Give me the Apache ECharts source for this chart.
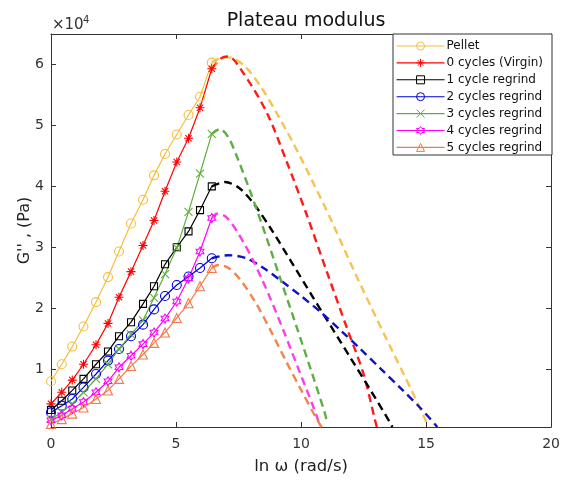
<!DOCTYPE html>
<html>
<head>
<meta charset="utf-8">
<script src="https://cdn.jsdelivr.net/npm/echarts@6/dist/echarts.min.js"></script>
<style>
html,body{margin:0;padding:0;background:#fff;}
#chart{width:563px;height:480px;}
</style>
</head>
<body>
<div id="chart"></div>
<script>
// ---- data (G'' in units of 1e4 Pa) ----
var lnW = [0, 0.43, 0.85, 1.3, 1.8, 2.28, 2.72, 3.2, 3.68, 4.12, 4.56, 5.03, 5.5, 5.96, 6.43];
var seriesNames = ['Pellet', '0 cycles (Virgin)', '1 cycle regrind', '2 cycles regrind', '3 cycles regrind', '4 cycles regrind', '5 cycles regrind'];

var pellet  = [0.80, 1.08, 1.37, 1.70, 2.10, 2.51, 2.93, 3.39, 3.78, 4.18, 4.53, 4.85, 5.17, 5.47, 6.03];
var cycle0  = [0.43, 0.62, 0.82, 1.08, 1.40, 1.75, 2.18, 2.60, 3.03, 3.44, 3.92, 4.40, 4.79, 5.29, 5.93];
var cycle1  = [0.33, 0.48, 0.65, 0.84, 1.08, 1.29, 1.54, 1.77, 2.07, 2.36, 2.72, 3.00, 3.26, 3.61, 4.00];
var cycle2  = [0.29, 0.40, 0.51, 0.70, 0.92, 1.14, 1.33, 1.54, 1.73, 1.98, 2.20, 2.38, 2.52, 2.66, 2.82];
var cycle3  = [0.18, 0.29, 0.43, 0.62, 0.84, 1.08, 1.33, 1.57, 1.80, 2.17, 2.56, 2.99, 3.58, 4.21, 4.86];
var cycle4  = [0.16, 0.24, 0.35, 0.46, 0.62, 0.80, 1.03, 1.22, 1.41, 1.60, 1.83, 2.11, 2.49, 2.93, 3.48];
var cycle5  = [0.10, 0.18, 0.27, 0.37, 0.51, 0.65, 0.84, 1.05, 1.24, 1.43, 1.60, 1.84, 2.08, 2.36, 2.66];

// fitted (dashed) curves: [ln w, G''/1e4]
var fitPellet = [[6.43,6.03],[6.9,6.12],[7.3,6.1],[7.8,5.95],[8.4,5.63],[9.0,5.22],[9.7,4.70],[10.4,4.13],[11.2,3.45],[12.0,2.72],[12.8,2.02],[13.6,1.34],[14.4,0.67],[15.05,0.10],[15.1,0.05]];
var fitCycle0 = [[6.43,5.93],[6.8,6.1],[7.09,6.13],[7.69,5.86],[8.63,5.21],[9.43,4.40],[10.23,3.53],[11.03,2.60],[11.83,1.68],[12.5,0.92],[12.96,0.16],[13.03,0.05]];
var fitCycle1 = [[6.43,4.00],[6.96,4.07],[7.5,3.98],[8.1,3.72],[8.8,3.30],[9.6,2.77],[10.4,2.23],[11.2,1.70],[12.0,1.17],[12.8,0.64],[13.55,0.13],[13.65,0.05]];
var fitCycle2 = [[6.43,2.82],[7.1,2.87],[7.8,2.82],[8.5,2.66],[9.2,2.45],[10.0,2.20],[10.8,1.93],[11.6,1.63],[12.4,1.32],[13.2,1.00],[14.0,0.68],[14.8,0.35],[15.45,0.05]];
var fitCycle3 = [[6.43,4.86],[6.76,4.94],[7.1,4.80],[7.5,4.42],[8.0,3.88],[8.6,3.18],[9.2,2.45],[9.8,1.72],[10.4,0.98],[10.95,0.28],[11.05,0.10]];
var fitCycle4 = [[6.43,3.48],[6.63,3.55],[7.0,3.50],[7.5,3.22],[8.1,2.77],[8.7,2.23],[9.3,1.63],[9.9,1.00],[10.5,0.37],[10.75,0.08]];
var fitCycle5 = [[6.43,2.66],[6.69,2.71],[7.1,2.66],[7.6,2.45],[8.2,2.08],[8.8,1.62],[9.4,1.13],[10.0,0.66],[10.6,0.20],[10.85,0.03]];

var xTicks = [0, 5, 10, 15, 20];
var yTicks = [1, 2, 3, 4, 5, 6];

// ---- styling ----
var colors = ['#F5BE3C', '#FF0000', '#000000', '#0000E0', '#5FAF3A', '#FF00FF', '#F4784A'];
var fitColors = ['#F7C350', '#FF1A1A', '#000000', '#1010C8', '#5EAD45', '#FF3DE6', '#F5834E'];
var FONT = 'DejaVu Sans';
var AX = '#333333';

var symAsterisk = 'path://M0,-5L0,5M-5,0L5,0M-3.5,-3.5L3.5,3.5M-3.5,3.5L3.5,-3.5';
var symX = 'path://M-4,-4L4,4M-4,4L4,-4';
var symHex = 'path://M0,-5L1.443,-2.5L4.33,-2.5L2.887,0L4.33,2.5L1.443,2.5L0,5L-1.443,2.5L-4.33,2.5L-2.887,0L-4.33,-2.5L-1.443,-2.5Z';
var symbols = ['circle', symAsterisk, 'rect', 'circle', symX, symHex, 'triangle'];
var symSizes = [9, 9, 7, 9, 8, 9, 9];

var measured = [pellet, cycle0, cycle1, cycle2, cycle3, cycle4, cycle5];
var fits = [fitPellet, fitCycle0, fitCycle1, fitCycle2, fitCycle3, fitCycle4, fitCycle5];

var series = [];
fits.forEach(function (f, i) {
  series.push({
    name: seriesNames[i] + ' fit',
    type: 'line',
    data: f,
    smooth: 0.3,
    showSymbol: false,
    symbol: 'none',
    lineStyle: { color: fitColors[i], width: 2.4, type: [8, 5] },
    z: 2,
    silent: true
  });
});
measured.forEach(function (vals, i) {
  series.push({
    name: seriesNames[i],
    type: 'line',
    data: lnW.map(function (x, k) { return [x, vals[k]]; }),
    symbol: symbols[i],
    symbolSize: symSizes[i],
    symbolKeepAspect: true,
    showAllSymbol: true,
    lineStyle: { color: colors[i], width: 1.2 },
    itemStyle: { color: 'rgba(255,255,255,0)', borderColor: colors[i], borderWidth: 1.1 },
    z: 3
  });
});

var chart = echarts.init(document.getElementById('chart'), null, { renderer: 'canvas' });
chart.setOption({
  animation: false,
  backgroundColor: '#ffffff',
  textStyle: { fontFamily: FONT },
  title: {
    text: 'Plateau modulus',
    left: 301, top: 7, textAlign: 'center',
    textStyle: { fontFamily: FONT, fontSize: 19, fontWeight: 'normal', color: '#111' }
  },
  grid: { left: 51, right: 11, top: 34, bottom: 50, containLabel: false },
  legend: {
    data: seriesNames,
    orient: 'vertical',
    left: 396, top: 40,
    padding: 0,
    itemWidth: 48, itemHeight: 10, itemGap: 4.9,
    lineStyle: { width: 1.1 },
    itemStyle: { borderWidth: 1 },
    textStyle: { fontFamily: FONT, fontSize: 12, color: '#111', padding: [0, 0, 0, -3] },
    selectedMode: false
  },
  graphic: [
    { type: 'rect', z: 1, shape: { x: 393, y: 34, width: 159, height: 121 }, style: { fill: '#fff', stroke: AX, lineWidth: 1 } },
    { type: 'text', left: 52, top: 18, style: { text: '\u00d710', fontFamily: FONT, fontSize: 15, fill: '#333' } },
    { type: 'text', left: 83, top: 15, style: { text: '4', fontFamily: FONT, fontSize: 10, fill: '#333' } }
  ],
  xAxis: [
    {
      type: 'value', position: 'bottom', min: 0, max: 20, interval: 5,
      name: 'ln \u03c9 (rad/s)', nameLocation: 'middle', nameGap: 31, nameMoveOverlap: false,
      nameTextStyle: { fontFamily: FONT, fontSize: 16.5, color: '#222' },
      axisLine: { show: true, onZero: false, lineStyle: { color: AX, width: 1 } },
      axisTick: { show: true, inside: true, length: 5, lineStyle: { color: AX } },
      axisLabel: { show: true, margin: 10, fontFamily: FONT, fontSize: 14, color: '#333',
        customValues: xTicks },
      splitLine: { show: false }
    },
    {
      type: 'value', position: 'top', min: 0, max: 20, interval: 5,
      axisLine: { show: true, onZero: false, lineStyle: { color: AX, width: 1 } },
      axisTick: { show: true, inside: true, length: 5, lineStyle: { color: AX } },
      axisLabel: { show: false },
      splitLine: { show: false }
    }
  ],
  yAxis: [
    {
      type: 'value', position: 'left', min: 0.05, max: 6.5,
      name: "G'' , (Pa)", nameLocation: 'middle', nameGap: 18, nameRotate: 90, nameMoveOverlap: false,
      nameTextStyle: { fontFamily: FONT, fontSize: 16, color: '#222' },
      axisLine: { show: true, onZero: false, lineStyle: { color: AX, width: 1 } },
      axisTick: { show: true, inside: true, length: 5, lineStyle: { color: AX }, customValues: yTicks },
      axisLabel: { show: true, margin: 7, fontFamily: FONT, fontSize: 14, color: '#333', customValues: yTicks },
      splitLine: { show: false }
    },
    {
      type: 'value', position: 'right', min: 0.05, max: 6.5,
      axisLine: { show: true, onZero: false, lineStyle: { color: AX, width: 1 } },
      axisTick: { show: true, inside: true, length: 5, lineStyle: { color: AX }, customValues: yTicks },
      axisLabel: { show: false },
      splitLine: { show: false }
    }
  ],
  series: series
});
</script>
</body>
</html>
